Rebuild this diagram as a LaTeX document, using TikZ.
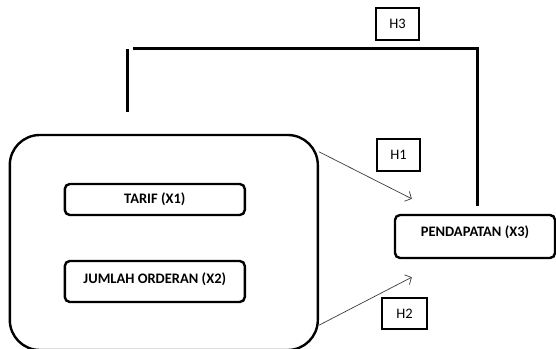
\documentclass[tikz,border=0pt]{standalone}
\usepackage{fontspec}
\setmainfont{Carlito}
\usepackage{tikz}
\usetikzlibrary{arrows.meta,positioning,calc}
\definecolor{hpink}{HTML}{000000}
\definecolor{hpgrey}{HTML}{3A3A3A}
\tikzset{
  hpgroup/.style={draw=hpink, line width=2.4pt, rounded corners=30pt, inner sep=0pt},
  hpvar/.style={draw=hpink, line width=2.4pt, rounded corners=5pt, inner sep=0pt,
                font=\bfseries\fontsize{14.5}{16}\selectfont},
  hphyp/.style={draw=hpink, line width=2pt, inner sep=0pt, minimum width=43pt,
                minimum height=32pt, font=\fontsize{14.5}{16}\selectfont},
  hpedge/.style={-{Straight Barb[length=5pt,width=11pt]}, draw=hpgrey, line width=0.7pt},
  hpbar/.style={draw=hpink, line width=3pt},
}
\begin{document}
\begin{tikzpicture}[x=1pt,y=1pt]
  \useasboundingbox (0,0) rectangle (556,348);
  \node[hpgroup, minimum width=308pt, minimum height=215pt] (grp) at (163.8,105.5) {};
  \node[hpvar, minimum width=180pt, minimum height=31pt] (tarif) at (154.8,148.5) {TARIF (X1)};
  \node[hpvar, minimum width=180pt, minimum height=41pt, text height=10pt, text depth=6pt]
    (order) at (154.8,66.5) {JUMLAH ORDERAN (X2)};
  \node[hpvar, minimum width=160pt, minimum height=43pt, text height=10pt, text depth=10pt]
    (pend) at (475,111.5) {PENDAPATAN (X3)};

  \node[hphyp] (h1) at (398.5,193) {H1};
  \node[hphyp, minimum width=45pt, minimum height=31pt] (h2) at (404.5,34.5) {H2};
  \node[hphyp] (h3) at (397.5,324) {H3};

  % arrows into pendapatan
  \coordinate (h1s) at ($(grp.north east)+(0,-18)$);
  \coordinate (h1e) at ($(pend.north west)+(18,15)$);
  \coordinate (h2s) at ($(grp.south east)+(0,26)$);
  \coordinate (h2e) at ($(pend.south west)+(18,-18)$);
  \draw[hpedge] (h1s) -- (h1e);
  \draw[hpedge] (h2s) -- (h2e);

  % simultaneous path
  \coordinate (h3a) at (127,236);
  \coordinate (h3b) at (127,299);
  \coordinate (h3c) at (133,299);
  \coordinate (h3d) at (477,299);
  \coordinate (h3e) at ($(pend.north)+(2,8)$);
  \draw[hpbar] (h3a) -- (h3b);
  \draw[hpbar, line join=miter] (h3c) -- (h3d) -- (h3e);
\end{tikzpicture}
\end{document}
